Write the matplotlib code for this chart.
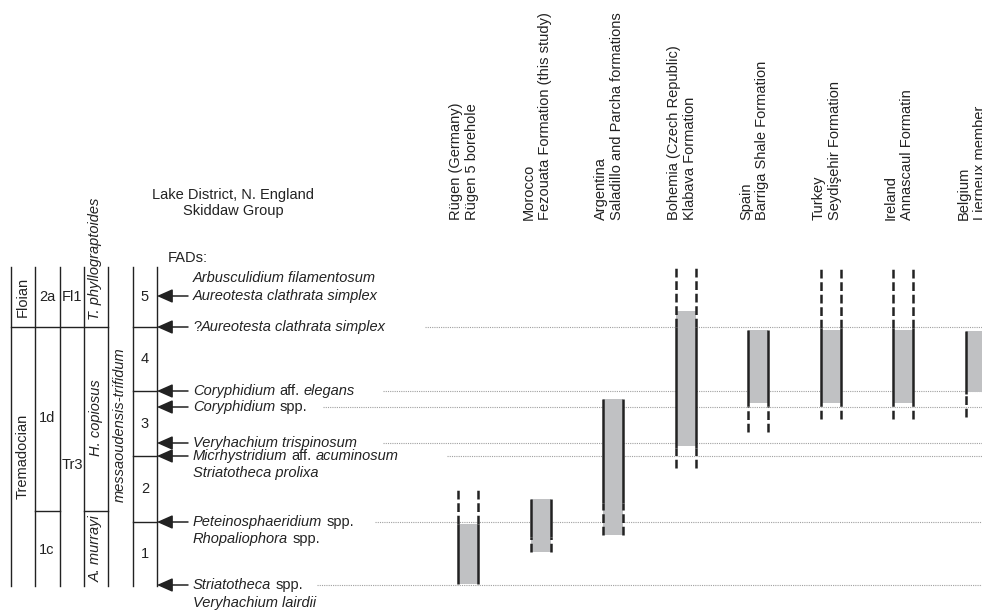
import matplotlib.pyplot as plt

plt.rcParams['font.family'] = ['Liberation Sans', 'DejaVu Sans']
plt.rcParams['font.size'] = 10.5

# stratigraphic height above base of zone 1 (arbitrary units)
zone_names = ['1', '2', '3', '4', '5']
zone_bounds = [0, 64, 130, 195, 259, 319]
stage_bound = 259       # Tremadocian / Floian
subzone_bound = 75      # 1c/1d and A. murrayi / H. copiosus

# first appearance datums in the Lake District (height of each arrow)
fad_heights = [290, 259, 195, 179, 143, 130, 64, 1]
fad_labels = [
    ['*Arbusculidium filamentosum*', '*Aureotesta clathrata simplex*'],
    ['?*Aureotesta clathrata simplex*'],
    ['*Coryphidium* aff. *elegans*'],
    ['*Coryphidium* spp.'],
    ['*Veryhachium trispinosum*'],
    ['*Micrhystridium* aff. *acuminosum*', '*Striatotheca prolixa*'],
    ['*Peteinosphaeridium* spp.', '*Rhopaliophora* spp.'],
    ['*Striatotheca* spp.', '*Veryhachium lairdii*'],
]
arrow_row = [1, 0, 0, 0, 0, 0, 0, 0]

# ranges in the other localities
localities = [
    ('Rügen (Germany)', 'Rügen 5 borehole'),
    ('Morocco', 'Fezouata Formation (this study)'),
    ('Argentina', 'Saladillo and Parcha formations'),
    ('Bohemia (Czech Republic)', 'Klabava Formation'),
    ('Spain', 'Barriga Shale Formation'),
    ('Turkey', 'Seydişehir Formation'),
    ('Ireland', 'Annascaul Formatin'),
    ('Belgium', 'Lierneux member'),
]
fill_top = [62, 87, 187, 275, 256, 256, 256, 255]
fill_base = [2, 34, 51, 140, 183, 183, 183, 194]
solid_top = [62, 87, 187, 259, 256, 258, 258, 255]
solid_base = [2, 49, 83, 138, 180, 180, 180, 192]
dash_top = [96, None, None, 320, None, 320, 320, None]
dash_base = [None, 34, 51, 118, 154, 167, 167, 169]

# layout
col_x = [468, 541, 613, 686, 758, 831, 903, 976]
dot_start = [None, 425, 383, 323, 383, 447, 375, 317]
ink = '#222222'
grey = '#c0c1c3'

fig = plt.figure(figsize=(9.82, 6.10), dpi=100)
ax = fig.add_axes([0, 0, 1, 1])
ax.set_xlim(0, 982)
ax.set_ylim(-24, 586)
ax.axis('off')

# ---- left stratigraphic columns
for x in [11, 35, 60, 84, 108, 133, 157]:
    ax.plot([x, x], [zone_bounds[0], zone_bounds[-1]], color=ink, lw=1)
ax.plot([11, 108], [stage_bound] * 2, color=ink, lw=1)
ax.plot([35, 60], [subzone_bound] * 2, color=ink, lw=1)
ax.plot([84, 108], [subzone_bound] * 2, color=ink, lw=1)
for b in zone_bounds[1:-1]:
    ax.plot([133, 157], [b, b], color=ink, lw=1)

ax.text(23, 289, 'Floian', rotation=90, ha='center', va='center', color=ink)
ax.text(23, 130, 'Tremadocian', rotation=90, ha='center', va='center', color=ink)
ax.text(47, 289, '2a', ha='center', va='center', color=ink)
ax.text(47, 168, '1d', ha='center', va='center', color=ink)
ax.text(47, 36, '1c', ha='center', va='center', color=ink)
ax.text(72, 289, 'Fl1', ha='center', va='center', color=ink)
ax.text(72, 121, 'Tr3', ha='center', va='center', color=ink)
ax.text(95, 266, 'T. phyllograptoides', rotation=90, rotation_mode='anchor',
        ha='left', va='center', style='italic', color=ink)
ax.text(96, 168, 'H. copiosus', rotation=90, ha='center', va='center', style='italic', color=ink)
ax.text(96, 37, 'A. murrayi', rotation=90, ha='center', va='center', style='italic', color=ink)
ax.text(120, 161, 'messaoudensis-trifidum', rotation=90, ha='center', va='center',
        style='italic', color=ink)
for name, lo, hi in zip(zone_names, zone_bounds[:-1], zone_bounds[1:]):
    ax.text(145, (lo + hi) / 2, name, ha='center', va='center', color=ink)

ax.text(233, 383, 'Lake District, N. England\nSkiddaw Group', ha='center', va='center',
        multialignment='center', color=ink)
ax.text(168, 328, 'FADs:', ha='left', va='center', color=ink)


def rich_line(x, y, line):
    segs = line.split('*')
    t = None
    prev_space = False
    for k, seg in enumerate(segs):
        if seg == '':
            continue
        style = 'italic' if k % 2 else 'normal'
        gap = 3 if (seg.startswith(' ') or prev_space) else 0
        prev_space = seg.endswith(' ')
        s = seg.strip()
        if t is None:
            t = ax.text(x, y, s, style=style, ha='left', va='center', color=ink)
        else:
            t = ax.annotate(s, xy=(1, 0.5), xycoords=t, xytext=(gap, 0),
                            textcoords='offset points', ha='left', va='center',
                            style=style, color=ink)


for i, h in enumerate(fad_heights):
    if dot_start[i] is not None:
        ax.hlines(h, dot_start[i], 982, colors='#a0a0a0', linestyles=(0, (1, 1)),
                  lw=0.8, zorder=0)
    ax.annotate('', xy=(157, h), xytext=(188, h),
                arrowprops=dict(arrowstyle='-|>,head_length=0.95,head_width=0.42',
                                color=ink, lw=1.1, shrinkA=0, shrinkB=0,
                                mutation_scale=10))
    for r, line in enumerate(fad_labels[i]):
        rich_line(193, h - (r - arrow_row[i]) * 17.5, line)

# ---- locality ranges
for i, x in enumerate(col_x):
    l1, l2 = localities[i]
    ax.text(x - 4, 366, l1 + '\n' + l2, rotation=90, rotation_mode='anchor',
            ha='left', va='center', multialignment='left', color=ink)
    ax.fill_between([x - 10, x + 10], fill_base[i], fill_top[i], color=grey, lw=0, zorder=1)
    for dx in (-10, 10):
        ax.plot([x + dx] * 2, [solid_base[i], solid_top[i]], color=ink, lw=1.8,
                solid_capstyle='butt', zorder=2)
        if dash_top[i] is not None:
            ax.plot([x + dx] * 2, [solid_top[i], dash_top[i]], color=ink, lw=1.8,
                    ls=(0, (3.5, 1.5)), dash_capstyle='butt', zorder=2)
        if dash_base[i] is not None:
            ax.plot([x + dx] * 2, [dash_base[i], solid_base[i]], color=ink, lw=1.8,
                    ls=(0, (3.5, 1.5)), dash_capstyle='butt', zorder=2)

fig.savefig('out.png', dpi=100)
